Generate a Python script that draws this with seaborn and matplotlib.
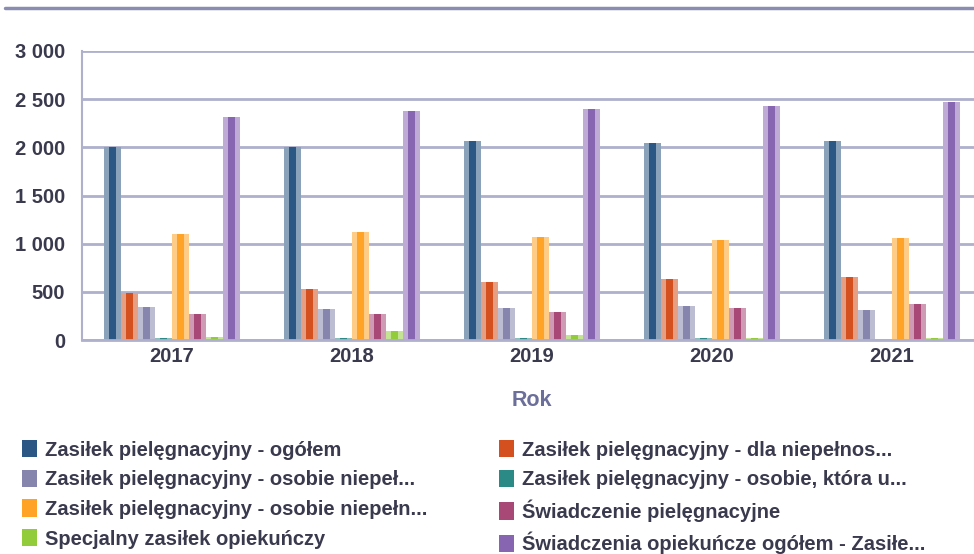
import numpy as np
import pandas as pd
import seaborn as sns
import matplotlib.pyplot as plt
from matplotlib.lines import Line2D
from matplotlib.patches import Rectangle
from matplotlib.ticker import FuncFormatter
import matplotlib.colors as mcolors

# dane
years = ["2017", "2018", "2019", "2020", "2021"]
series = [
    "Zasiłek pielęgnacyjny - ogółem",
    "Zasiłek pielęgnacyjny - dla niepełnos...",
    "Zasiłek pielęgnacyjny - osobie niepeł...",
    "Zasiłek pielęgnacyjny - osobie, która u...",
    "Zasiłek pielęgnacyjny - osobie niepełn...",
    "Świadczenie pielęgnacyjne",
    "Specjalny zasiłek opiekuńczy",
    "Świadczenia opiekuńcze ogółem - Zasiłe...",
]
ogolem = [2000, 2000, 2065, 2047, 2065]
dla_niepelnosprawnego = [490, 530, 600, 633, 657]
osobie_niepel = [345, 322, 330, 353, 308]
osobie_ktora = [20, 18, 18, 18, 0]
osobie_niepeln = [1102, 1120, 1068, 1036, 1058]
swiadczenie_piel = [272, 275, 290, 330, 370]
specjalny = [35, 93, 52, 18, 18]
swiadczenia_ogolem = [2320, 2372, 2402, 2424, 2470]

values = [ogolem, dla_niepelnosprawnego, osobie_niepel, osobie_ktora,
          osobie_niepeln, swiadczenie_piel, specjalny, swiadczenia_ogolem]
colors = ["#2a5783", "#d4501e", "#8585ad", "#2b8a86",
          "#ffa326", "#a84877", "#93cc3a", "#8865b0"]

rows = []
for name, vals in zip(series, values):
    for y, v in zip(years, vals):
        rows.append({"Rok": y, "Seria": name, "Wartosc": v})
df = pd.DataFrame(rows)

sns.set_style("white")
plt.rcParams["font.family"] = ["Liberation Sans", "DejaVu Sans"]
txt = "#3a3a4e"
grid_c = "#aeb0cc"

fig = plt.figure(figsize=(9.74, 5.54), dpi=100)
ax = fig.add_axes([82 / 974, 214 / 554, 900 / 974, 289 / 554])

sns.barplot(data=df, x="Rok", y="Wartosc", hue="Seria", hue_order=series,
            palette=colors, width=0.76, saturation=1, ax=ax, linewidth=0)

# pasek w srodku slupka (efekt gradientu)
for bar in list(ax.patches):
    w = bar.get_width()
    h = bar.get_height()
    if h <= 0:
        continue
    base = np.array(mcolors.to_rgb(bar.get_facecolor()))
    light = base + (1 - base) * 0.45
    bar.set_facecolor(light)
    ax.add_patch(Rectangle((bar.get_x() + w * 0.3, 0), w * 0.4, h,
                           facecolor=base, linewidth=0, zorder=bar.get_zorder()))

ax.set_ylim(0, 3000)
ax.set_yticks([0, 500, 1000, 1500, 2000, 2500, 3000])
ax.yaxis.set_major_formatter(FuncFormatter(lambda v, p: f"{int(v):,}".replace(",", " ")))
ax.grid(axis="y", color=grid_c, linewidth=2)
ax.set_axisbelow(True)
for s in ["top", "right"]:
    ax.spines[s].set_visible(False)
ax.spines["left"].set_color(grid_c)
ax.spines["left"].set_linewidth(1.5)
ax.spines["bottom"].set_color(grid_c)
ax.spines["bottom"].set_linewidth(2)
ax.tick_params(axis="y", length=0, pad=12, labelsize=14.5, labelcolor=txt)
ax.tick_params(axis="x", length=0, pad=5, labelsize=14.5, labelcolor=txt)
for lab in ax.get_xticklabels() + ax.get_yticklabels():
    lab.set_fontweight("bold")
ax.set_ylabel("")
ax.set_xlabel("Rok", fontsize=15.5, fontweight="bold", color="#6c6f99", labelpad=17)

# legenda w dwoch kolumnach, kolejnosc wierszami
handles, labels = ax.get_legend_handles_labels()
ax.get_legend().remove()
order = [0, 2, 4, 6, 1, 3, 5, 7]
fig.legend([handles[i] for i in order], [labels[i] for i in order], ncol=2,
           loc="upper left", bbox_to_anchor=(22 / 974, 1 - 440 / 554),
           borderaxespad=0, borderpad=0,
           frameon=False, handlelength=0.75, handleheight=0.95, handletextpad=0.4,
           labelspacing=0.5, columnspacing=3.55,
           prop={"weight": "bold", "size": 14.5}, labelcolor=txt)

# linia u gory
fig.add_artist(Line2D([5 / 974, 1], [1 - 8 / 554, 1 - 8 / 554],
                      color="#8b8db0", linewidth=2.5, transform=fig.transFigure))

fig.savefig("out.png", dpi=100)
